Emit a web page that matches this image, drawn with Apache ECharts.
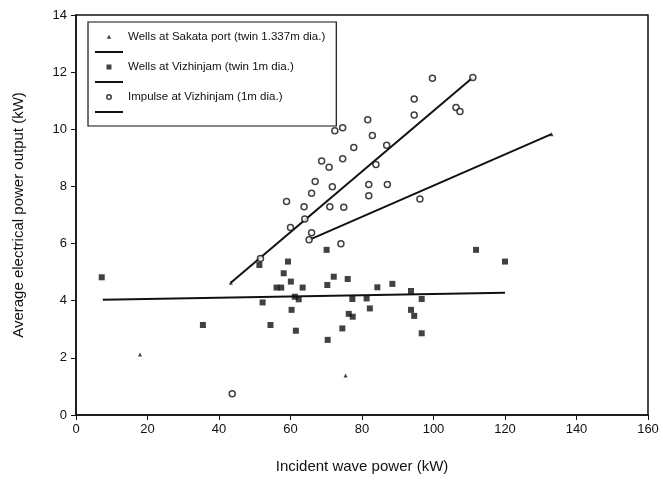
<!DOCTYPE html>
<html>
<head>
<meta charset="utf-8">
<script src="https://cdn.jsdelivr.net/npm/echarts@6/dist/echarts.min.js"></script>
<style>
  html, body { margin: 0; padding: 0; background: #fff; }
  #chart { width: 663px; height: 481px; }
</style>
</head>
<body>
<div id="chart"></div>
<script>
// series names as in the legend
const nameSakata = 'Wells at Sakata port (twin 1.337m dia.)'
const nameWells = 'Wells at Vizhinjam (twin 1m dia.)'
const nameImpulse = 'Impulse at Vizhinjam (1m dia.)'

// [incident wave power kW, electrical power kW]
const sakataPts = [[133, 9.83], [43.3, 4.63], [17.9, 2.12], [75.4, 1.38]]

const wellsPts = [
  [7.2, 4.82], [35.5, 3.15], [51.3, 5.25], [52.2, 3.94], [54.4, 3.15],
  [56.1, 4.46], [57.4, 4.46], [58.1, 4.96], [59.3, 5.37], [60.1, 4.67],
  [63.4, 4.46], [61.2, 4.14], [62.3, 4.05], [60.3, 3.68], [61.5, 2.95],
  [70.1, 5.78], [72.1, 4.84], [70.3, 4.55], [76.0, 4.76], [76.3, 3.54],
  [77.4, 3.44], [74.5, 3.03], [70.4, 2.63], [77.3, 4.06], [81.3, 4.08],
  [82.2, 3.73], [84.3, 4.47], [88.5, 4.59], [93.7, 4.34], [96.7, 4.06],
  [93.7, 3.68], [94.6, 3.47], [96.7, 2.86], [111.9, 5.78], [120.0, 5.37],
]

const impulsePts = [
  [99.7, 11.79], [111.0, 11.81], [94.6, 11.06], [94.6, 10.50], [106.3, 10.76],
  [107.4, 10.62], [81.6, 10.33], [72.4, 9.95], [74.6, 10.05], [82.9, 9.78],
  [77.7, 9.36], [86.9, 9.44], [74.6, 8.97], [68.7, 8.89], [70.8, 8.67],
  [83.9, 8.77], [66.9, 8.17], [71.7, 7.99], [81.9, 8.07], [87.1, 8.07],
  [65.9, 7.76], [81.9, 7.67], [58.9, 7.47], [63.8, 7.29], [71.0, 7.29],
  [74.9, 7.27], [96.2, 7.56], [64.0, 6.86], [60.0, 6.56], [65.9, 6.38],
  [65.2, 6.13], [74.1, 5.99], [51.6, 5.48], [43.7, 0.74],
]

// fitted lines (end points)
const sakataFit = [[65.2, 6.13], [133, 9.83]]
const wellsFit = [[7.5, 4.03], [120, 4.28]]
const impulseFit = [[43.3, 4.63], [111, 11.81]]

const xTicks = [0, 160, 20]  // min, max, step
const yTicks = [0, 14, 2]

const font = '"Liberation Sans", Arial, sans-serif'
const ink = '#111'

// small legend markers centred in a 28x9 box (tiny corner dots fix the box)
const box = 'M0,0L0.01,0L0,0.01Z M28,9L27.99,9L28,8.99Z '
const iconTri = 'path://' + box + 'M14,2.3L16.2,6.2L11.8,6.2Z'
const iconSq = 'path://' + box + 'M11.5,2L16.5,2L16.5,7L11.5,7Z'
const iconRing = 'path://' + box +
  'M17,4.5A3,3 0 1,0 11,4.5A3,3 0 1,0 17,4.5Z M15.5,4.5A1.5,1.5 0 1,1 12.5,4.5A1.5,1.5 0 1,1 15.5,4.5Z'
const iconLine = 'path://' + box + 'M0,3.6L28,3.6L28,5.4L0,5.4Z'

const chart = echarts.init(document.getElementById('chart'), null, { renderer: 'canvas' })

function fitLine(name, data) {
  return {
    name,
    type: 'line',
    data,
    symbol: 'none',
    itemStyle: { color: ink },
    lineStyle: { color: ink, width: 2 },
    z: 3,
    silent: true,
  }
}

const plain = { color: ink, borderWidth: 0 }

chart.setOption({
  animation: false,
  backgroundColor: '#fff',
  textStyle: { fontFamily: font },
  grid: {
    left: 76, right: 15, top: 15, bottom: 66,
    show: true, borderColor: ink, borderWidth: 1.5,
  },
  legend: {
    orient: 'vertical',
    left: 88, top: 22,
    padding: [9, 11, 8, 7],
    itemWidth: 28, itemHeight: 9,
    itemGap: 3,
    borderColor: ink, borderWidth: 1.2,
    backgroundColor: '#fff',
    textStyle: { fontSize: 11.5, lineHeight: 12, color: ink, fontFamily: font },
    data: [
      { name: nameSakata, icon: iconTri, itemStyle: plain },
      { name: 'fitS', icon: iconLine, itemStyle: plain },
      { name: nameWells, icon: iconSq, itemStyle: plain },
      { name: 'fitV', icon: iconLine, itemStyle: plain },
      { name: nameImpulse, icon: iconRing, itemStyle: plain },
      { name: 'fitI', icon: iconLine, itemStyle: plain },
    ],
    formatter: n => (n.startsWith('fit') ? ' ' : n),
    selectedMode: false,
  },
  xAxis: {
    type: 'value',
    min: xTicks[0], max: xTicks[1], interval: xTicks[2],
    name: 'Incident wave power (kW)',
    nameLocation: 'middle',
    nameGap: 44,
    nameTextStyle: { fontSize: 15, color: ink },
    axisLine: { lineStyle: { color: ink, width: 1.5 } },
    axisTick: { length: 5, lineStyle: { color: ink } },
    axisLabel: { fontSize: 13, color: ink, margin: 8 },
    splitLine: { show: false },
  },
  yAxis: {
    type: 'value',
    min: yTicks[0], max: yTicks[1], interval: yTicks[2],
    name: 'Average electrical power output (kW)',
    nameLocation: 'middle',
    nameGap: 50,
    nameRotate: 90,
    nameTextStyle: { fontSize: 15, color: ink },
    axisLine: { lineStyle: { color: ink, width: 1.5 } },
    axisTick: { length: 5, lineStyle: { color: ink } },
    axisLabel: { fontSize: 13, color: ink, margin: 9 },
    splitLine: { show: false },
  },
  series: [
    {
      name: nameSakata,
      type: 'scatter',
      data: sakataPts,
      symbol: 'triangle',
      symbolSize: 4,
      itemStyle: { color: ink },
      z: 4,
    },
    fitLine('fitS', sakataFit),
    {
      name: nameWells,
      type: 'scatter',
      data: wellsPts,
      symbol: 'rect',
      symbolSize: 6,
      itemStyle: { color: ink },
      z: 4,
    },
    fitLine('fitV', wellsFit),
    {
      name: nameImpulse,
      type: 'scatter',
      data: impulsePts,
      symbol: 'circle',
      symbolSize: 6,
      itemStyle: { color: '#fff', borderColor: ink, borderWidth: 1.5 },
      z: 4,
    },
    fitLine('fitI', impulseFit),
  ],
})
</script>
</body>
</html>
